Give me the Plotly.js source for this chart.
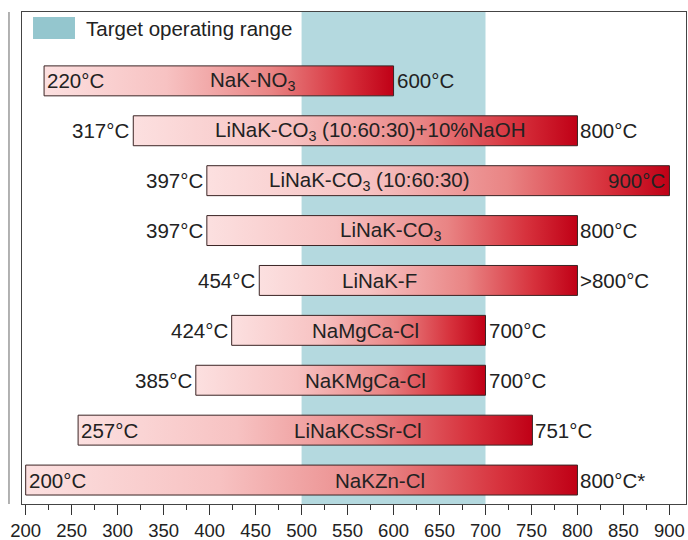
<!DOCTYPE html>
<html>
<head>
<meta charset="utf-8">
<script src="https://cdn.plot.ly/plotly-3.0.1.min.js"></script>
<style>html,body{margin:0;padding:0;background:#fff;}#chart{width:688px;height:540px;}</style>
</head>
<body>
<div id="chart"></div>
<script>
// ---- data (top to bottom) ----
const saltNames = [
  "NaK-NO<sub>3</sub>",
  "LiNaK-CO<sub>3</sub> (10:60:30)+10%NaOH",
  "LiNaK-CO<sub>3</sub> (10:60:30)",
  "LiNaK-CO<sub>3</sub>",
  "LiNaK-F",
  "NaMgCa-Cl",
  "NaKMgCa-Cl",
  "LiNaKCsSr-Cl",
  "NaKZn-Cl"
];
const meltingT = [220, 317, 397, 397, 454, 424, 385, 257, 200];
const upperT   = [600, 800, 900, 800, 800, 700, 700, 751, 800];
const upperLabels = ["600°C", "800°C", "900°C", "800°C", ">800°C", "700°C", "700°C", "751°C", "800°C*"];
const targetRange = [500, 700];
const targetLabel = "Target operating range";
const xTicks = [200, 250, 300, 350, 400, 450, 500, 550, 600, 650, 700, 750, 800, 850, 900];

// ---- label placement (layout, not data) ----
const nameAnchor = [447, 575, 574, 597, 585, 570, 569, 561, 585];
const startInside = [true, false, false, false, false, false, false, true, true];
const endInside   = [false, false, true, false, false, false, false, false, false];

const FONT = "Liberation Sans, Arial, sans-serif";
const FS = 20.5;
const TXT = "#222";
const yLo = -0.48, yHi = 9.38, halfH = 0.3;
const gradient = [[0, '#fce0e0'], [0.35, '#f7c2c2'], [0.65, '#e98484'], [0.86, '#d7323d'], [1, '#c00016']];

const n = saltNames.length;
const traces = [];
const annotations = [];
for (let i = 0; i < n; i++) {
  const yc = n - 1 - i;
  const s = meltingT[i], e = upperT[i];
  traces.push({
    type: 'scatter', mode: 'lines',
    x: [s, e, e, s, s],
    y: [yc - halfH, yc - halfH, yc + halfH, yc + halfH, yc - halfH],
    fill: 'toself',
    fillgradient: {type: 'horizontal', colorscale: gradient},
    line: {color: '#3b2424', width: 1},
    hoverinfo: 'skip', showlegend: false
  });
  annotations.push({
    x: s, y: yc, xref: 'x', yref: 'y', showarrow: false,
    text: meltingT[i] + "°C",
    xanchor: startInside[i] ? 'left' : 'right', yanchor: 'middle',
    xshift: startInside[i] ? 1 : -2,
    font: {family: FONT, size: FS, color: TXT}
  });
  annotations.push({
    x: e, y: yc, xref: 'x', yref: 'y', showarrow: false,
    text: upperLabels[i],
    xanchor: endInside[i] ? 'right' : 'left', yanchor: 'middle',
    xshift: endInside[i] ? -2 : 1,
    font: {family: FONT, size: FS, color: TXT}
  });
  annotations.push({
    x: nameAnchor[i], y: yc, xref: 'x', yref: 'y', showarrow: false,
    text: saltNames[i], xanchor: 'center', yanchor: 'middle',
    font: {family: FONT, size: FS, color: TXT}
  });
}
annotations.push({
  x: 0.094, y: 0.966, xref: 'paper', yref: 'paper', showarrow: false,
  text: targetLabel, xanchor: 'left', yanchor: 'middle',
  font: {family: FONT, size: FS, color: TXT}
});

const shapes = [
  {type: 'rect', xref: 'x', yref: 'paper', x0: targetRange[0], x1: targetRange[1], y0: 0, y1: 1,
   fillcolor: '#b4d9df', line: {width: 0}, layer: 'below'},
  {type: 'rect', xref: 'paper', yref: 'paper', x0: 0.0166, x1: 0.0798, y0: 0.945, y1: 0.990,
   fillcolor: '#94c6ce', line: {width: 0}},
  {type: 'line', xref: 'paper', yref: 'paper', x0: -0.0196, x1: -0.0196, y0: 0, y1: 1,
   line: {color: '#666', width: 1}}
];

const layout = {
  width: 688, height: 540,
  margin: {l: 22, r: 2, t: 12, b: 36, pad: 0},
  paper_bgcolor: '#fff', plot_bgcolor: '#fff',
  showlegend: false,
  xaxis: {
    range: [196, 918], tickvals: xTicks, ticktext: xTicks.map(String),
    ticks: 'outside', ticklen: 10, tickwidth: 1.5, tickcolor: '#333',
    minor: {dtick: 25, tick0: 0, ticks: 'outside', ticklen: 5, tickwidth: 1.2, tickcolor: '#333'},
    showgrid: false, zeroline: false, showline: true, mirror: true,
    linecolor: '#444', linewidth: 1,
    tickfont: {family: FONT, size: 18.5, color: TXT}
  },
  yaxis: {
    range: [yLo, yHi], showticklabels: false, ticks: '',
    showgrid: false, zeroline: false, showline: true, mirror: true,
    linecolor: '#444', linewidth: 1
  },
  shapes: shapes,
  annotations: annotations
};

Plotly.newPlot('chart', traces, layout, {displayModeBar: false, staticPlot: true});
</script>
</body>
</html>
